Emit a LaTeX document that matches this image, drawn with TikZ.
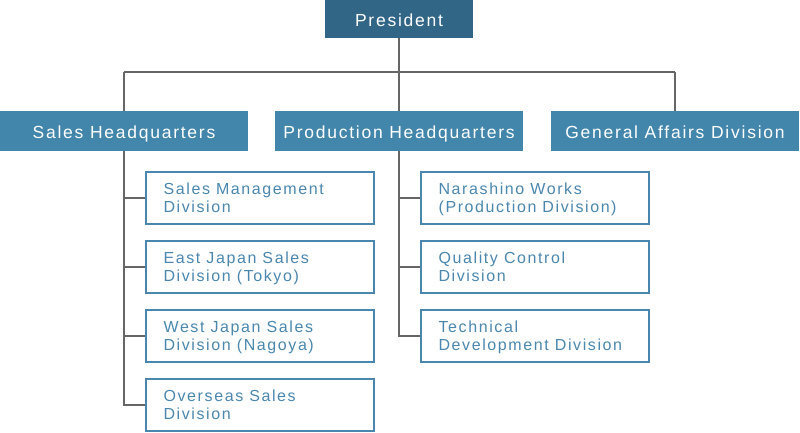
\documentclass[tikz,border=0pt]{standalone}
\usepackage{fontspec}
\setmainfont[LetterSpace=10]{Liberation Sans}
\definecolor{topblue}{HTML}{326687}
\definecolor{hqblue}{HTML}{4386AB}
\definecolor{boxblue}{HTML}{4A86AD}
\definecolor{linegray}{HTML}{666666}
\newcommand{\eqh}{\vphantom{Ay()}}
\tikzset{
  topbox/.style={fill=topblue, text=white, minimum width=148pt, minimum height=38pt, inner sep=0pt, text height=17pt, text depth=1.8pt, font=\fontsize{17.5}{18}\selectfont},
  hqbox/.style={fill=hqblue, text=white, minimum width=248pt, minimum height=40pt, inner sep=0pt, text height=17pt, text depth=1.8pt, font=\fontsize{17.5}{18}\selectfont},
  divbox/.style={draw=boxblue, line width=1.2pt, text=boxblue, minimum width=228pt, minimum height=52pt, inner sep=0pt},
  dtext/.style={anchor=west, align=left, text=boxblue, inner sep=0pt, font=\fontsize{16}{18}\selectfont},
  conn/.style={draw=linegray, line width=1.1pt}
}
\begin{document}
\begin{tikzpicture}[x=1pt,y=-1pt]
\useasboundingbox (0,0) rectangle (800,432);
\node[topbox] (pres) at (399,19) {President};
\node[hqbox] (sales) at (124,131) {Sales Headquarters};
\node[hqbox] (prod) at (399,131) {Production Headquarters};
\node[hqbox] (gen) at (675,131) {General Affairs Division};
\coordinate (j) at (399,72);
\coordinate (jl) at (124,72);
\coordinate (jr) at (675,72);
\draw[conn] (pres.south) -- (j);
\draw[conn] (jl) -- (jr);
\draw[conn] (jl) -- (sales.north);
\draw[conn] (jr) -- (gen.north);
\draw[conn] (j) -- (prod.north);
\node[divbox] (s1) at (260,198) {};
\node[divbox] (s2) at (260,267) {};
\node[divbox] (s3) at (260,336) {};
\node[divbox] (s4) at (260,405) {};
\node[divbox] (p1) at (535,198) {};
\node[divbox] (p2) at (535,267) {};
\node[divbox] (p3) at (535,336) {};
\node[dtext] (s1t) at ([xshift=18pt,yshift=-1pt]s1.west) {\eqh Sales Management\\\eqh Division};
\node[dtext] (s2t) at ([xshift=18pt,yshift=-1pt]s2.west) {\eqh East Japan Sales\\\eqh Division (Tokyo)};
\node[dtext] (s3t) at ([xshift=18pt,yshift=-1pt]s3.west) {\eqh West Japan Sales\\\eqh Division (Nagoya)};
\node[dtext] (s4t) at ([xshift=18pt,yshift=-1pt]s4.west) {\eqh Overseas Sales\\\eqh Division};
\node[dtext] (p1t) at ([xshift=18pt,yshift=-1pt]p1.west) {\eqh Narashino Works\\\eqh (Production Division)};
\node[dtext] (p2t) at ([xshift=18pt,yshift=-1pt]p2.west) {\eqh Quality Control\\\eqh Division};
\node[dtext] (p3t) at ([xshift=18pt,yshift=-1pt]p3.west) {\eqh Technical\\\eqh Development Division};
\draw[conn] (sales.south) |- (s4.west);
\draw[conn] (sales.south |- s1.west) -- (s1.west);
\draw[conn] (sales.south |- s2.west) -- (s2.west);
\draw[conn] (sales.south |- s3.west) -- (s3.west);
\draw[conn] (prod.south) |- (p3.west);
\draw[conn] (prod.south |- p1.west) -- (p1.west);
\draw[conn] (prod.south |- p2.west) -- (p2.west);
\end{tikzpicture}
\end{document}
